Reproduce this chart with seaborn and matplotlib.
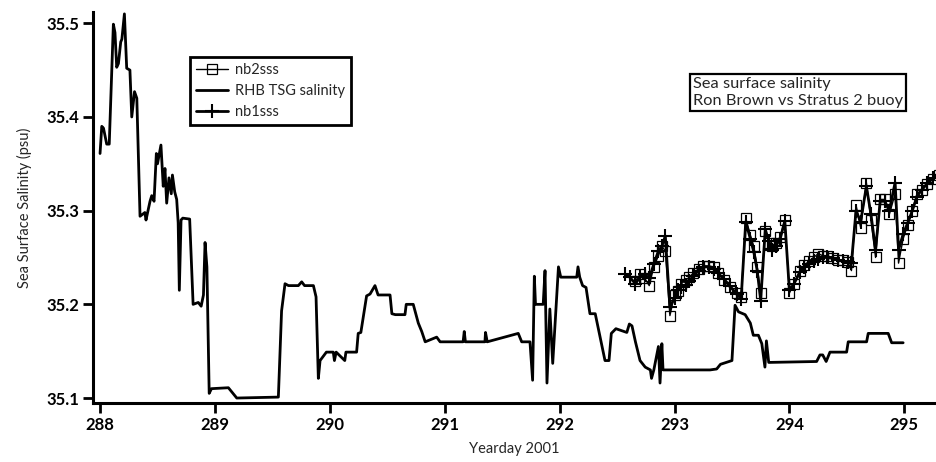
import matplotlib
matplotlib.use('Agg')
import matplotlib.pyplot as plt
import seaborn as sns

# Ship thermosalinograph (RHB TSG salinity)
tsg_day = [288.000, 288.015, 288.030, 288.058, 288.080, 288.116, 288.130, 288.145, 288.160, 288.180,
           288.190, 288.212, 288.232, 288.260, 288.276, 288.300, 288.320, 288.348, 288.390, 288.400,
           288.435, 288.450, 288.470, 288.490, 288.500, 288.530, 288.550, 288.565, 288.580, 288.600,
           288.620, 288.630, 288.650, 288.667, 288.680, 288.690, 288.705, 288.720, 288.780, 288.810,
           288.855, 288.880, 288.900, 288.914, 288.930, 288.950, 288.970, 289.117, 289.190, 289.552,
           289.580, 289.610, 289.640, 289.726, 289.755, 289.780, 289.857, 289.880, 289.900, 289.915,
           289.970, 290.030, 290.040, 290.055, 290.130, 290.140, 290.233, 290.247, 290.270, 290.320,
           290.350, 290.393, 290.420, 290.524, 290.540, 290.570, 290.654, 290.665, 290.726, 290.750,
           290.770, 290.800, 290.830, 290.930, 290.960, 291.160, 291.170, 291.180, 291.350, 291.355,
           291.370, 291.640, 291.670, 291.742, 291.765, 291.780, 291.790, 291.857, 291.873, 291.890,
           291.915, 291.940, 291.990, 292.010, 292.149, 292.160, 292.175, 292.200, 292.230, 292.264,
           292.310, 292.395, 292.430, 292.450, 292.490, 292.585, 292.607, 292.630, 292.660, 292.700,
           292.745, 292.790, 292.800, 292.820, 292.860, 292.874, 292.890, 292.900, 293.309, 293.367,
           293.400, 293.500, 293.527, 293.557, 293.615, 293.660, 293.686, 293.730, 293.760, 293.787,
           293.800, 293.820, 294.237, 294.266, 294.290, 294.320, 294.353, 294.498, 294.512, 294.672,
           294.686, 294.860, 294.890, 294.990]
tsg_psu = [35.361, 35.390, 35.388, 35.371, 35.371, 35.499, 35.490, 35.453, 35.457, 35.480,
           35.483, 35.510, 35.452, 35.450, 35.400, 35.427, 35.420, 35.294, 35.298, 35.290,
           35.310, 35.316, 35.310, 35.361, 35.350, 35.370, 35.326, 35.345, 35.308, 35.335,
           35.318, 35.338, 35.320, 35.312, 35.287, 35.215, 35.290, 35.292, 35.291, 35.200,
           35.202, 35.198, 35.210, 35.266, 35.240, 35.105, 35.110, 35.111, 35.100, 35.101,
           35.193, 35.222, 35.220, 35.220, 35.224, 35.220, 35.220, 35.208, 35.121, 35.140,
           35.149, 35.149, 35.140, 35.149, 35.140, 35.149, 35.149, 35.169, 35.170, 35.209,
           35.211, 35.220, 35.210, 35.210, 35.190, 35.189, 35.189, 35.200, 35.200, 35.189,
           35.180, 35.171, 35.160, 35.165, 35.160, 35.160, 35.171, 35.160, 35.160, 35.170,
           35.160, 35.169, 35.160, 35.160, 35.119, 35.230, 35.200, 35.200, 35.236, 35.116,
           35.195, 35.137, 35.240, 35.229, 35.229, 35.240, 35.229, 35.220, 35.218, 35.190,
           35.190, 35.140, 35.140, 35.169, 35.174, 35.170, 35.179, 35.177, 35.160, 35.140,
           35.133, 35.130, 35.121, 35.130, 35.155, 35.116, 35.158, 35.130, 35.130, 35.131,
           35.136, 35.140, 35.199, 35.192, 35.189, 35.180, 35.167, 35.167, 35.158, 35.133,
           35.161, 35.138, 35.139, 35.146, 35.146, 35.139, 35.149, 35.149, 35.160, 35.160,
           35.169, 35.169, 35.159, 35.159]

# Stratus 2 buoy, sensor 1 (nb1sss)
nb1_day = [292.57, 292.61, 292.66, 292.70, 292.74, 292.78, 292.82, 292.86, 292.89, 292.92,
           292.96, 293.00, 293.03, 293.06, 293.10, 293.13, 293.16, 293.21, 293.25, 293.30,
           293.34, 293.38, 293.43, 293.48, 293.54, 293.58, 293.62, 293.66, 293.69, 293.72,
           293.75, 293.79, 293.82, 293.85, 293.88, 293.92, 293.96, 294.00, 294.04, 294.09,
           294.13, 294.17, 294.21, 294.25, 294.29, 294.33, 294.38, 294.42, 294.47, 294.51,
           294.54, 294.58, 294.62, 294.67, 294.71, 294.75, 294.79, 294.83, 294.87, 294.92,
           294.95, 294.99, 295.03, 295.07, 295.11, 295.15, 295.20, 295.25, 295.30]
nb1_psu = [35.232, 35.229, 35.222, 35.229, 35.232, 35.228, 35.243, 35.257, 35.262, 35.273,
           35.197, 35.207, 35.215, 35.219, 35.221, 35.225, 35.230, 35.236, 35.240, 35.240,
           35.238, 35.233, 35.227, 35.220, 35.211, 35.206, 35.288, 35.270, 35.256, 35.236,
           35.204, 35.280, 35.268, 35.258, 35.262, 35.270, 35.289, 35.215, 35.222, 35.234,
           35.240, 35.243, 35.246, 35.248, 35.250, 35.250, 35.249, 35.247, 35.246, 35.245,
           35.244, 35.300, 35.288, 35.326, 35.296, 35.258, 35.310, 35.310, 35.300, 35.330,
           35.258, 35.275, 35.287, 35.300, 35.315, 35.322, 35.329, 35.335, 35.338]

# Stratus 2 buoy, sensor 2 (nb2sss)
nb2_day = nb1_day[2:]
nb2_psu = [35.225, 35.232, 35.228, 35.220, 35.240, 35.252, 35.262, 35.257,
           35.188, 35.210, 35.214, 35.222, 35.226, 35.229, 35.233, 35.238, 35.241, 35.241,
           35.240, 35.233, 35.226, 35.218, 35.212, 35.208, 35.292, 35.274, 35.262, 35.240,
           35.212, 35.278, 35.266, 35.262, 35.266, 35.272, 35.290, 35.212, 35.222, 35.236,
           35.242, 35.246, 35.250, 35.254, 35.252, 35.252, 35.249, 35.247, 35.247, 35.245,
           35.236, 35.306, 35.282, 35.330, 35.290, 35.250, 35.312, 35.312, 35.296, 35.318,
           35.244, 35.270, 35.285, 35.300, 35.318, 35.322, 35.328, 35.334, 35.338]

x_ticks = [288, 289, 290, 291, 292, 293, 294, 295]
y_ticks = [35.1, 35.2, 35.3, 35.4, 35.5]

sns.set_style('ticks')
plt.rcParams['font.family'] = ['Lato', 'DejaVu Sans']

fig = plt.figure(figsize=(9.36, 4.62), dpi=100)
ax = fig.add_axes([0.0994, 0.1277, 0.9006, 0.8463])

# buoy sensor 2, open squares
sns.lineplot(x=nb2_day, y=nb2_psu, ax=ax, estimator=None, sort=False, color='k', lw=1.0,
             marker='s', markersize=7, markerfacecolor='none', markeredgecolor='k',
             markeredgewidth=0.9, label='nb2sss')
# ship TSG
sns.lineplot(x=tsg_day, y=tsg_psu, ax=ax, estimator=None, sort=False, color='k', lw=2.0,
             label='RHB TSG salinity')
# buoy sensor 1, crosses
sns.lineplot(x=nb1_day, y=nb1_psu, ax=ax, estimator=None, sort=False, color='k', lw=2.0,
             marker='+', markersize=10, markeredgecolor='k', markeredgewidth=1.5,
             label='nb1sss')

ax.set_xlim(287.939, 295.276)
ax.set_ylim(35.0947, 35.512)
ax.set_xticks(x_ticks)
ax.set_yticks(y_ticks)
ax.set_xticklabels([str(t) for t in x_ticks], fontsize=12, fontweight='bold')
ax.set_yticklabels([f'{t:.1f}' for t in y_ticks], fontsize=12, fontweight='bold')
ax.tick_params(direction='out', length=7, width=2, colors='k', pad=3)

sns.despine(ax=ax)
for s in ['left', 'bottom']:
    ax.spines[s].set_linewidth(2.2)
    ax.spines[s].set_color('k')

ax.set_xlabel('Yearday 2001', fontsize=10.5)
ax.set_ylabel('Sea Surface Salinity (psu)', fontsize=10.5)
ax.xaxis.set_label_coords(0.5, -0.1)
ax.yaxis.set_label_coords(-0.073, 0.5)

leg = ax.legend(loc='upper left', bbox_to_anchor=(0.115, 0.885), fontsize=10.5,
                frameon=True, fancybox=False, framealpha=1, edgecolor='k',
                borderaxespad=0, borderpad=0.4, labelspacing=0.5,
                handlelength=2.2, handletextpad=0.5)
leg.get_frame().set_linewidth(2)

ax.text(0.7117, 0.834, 'Sea surface salinity\nRon Brown vs Stratus 2 buoy',
        transform=ax.transAxes, ha='left', va='top', fontsize=11.8, linespacing=1.3,
        bbox=dict(boxstyle='square,pad=0.2', fc='white', ec='k', lw=1.6))

fig.savefig('out.png', dpi=100)
